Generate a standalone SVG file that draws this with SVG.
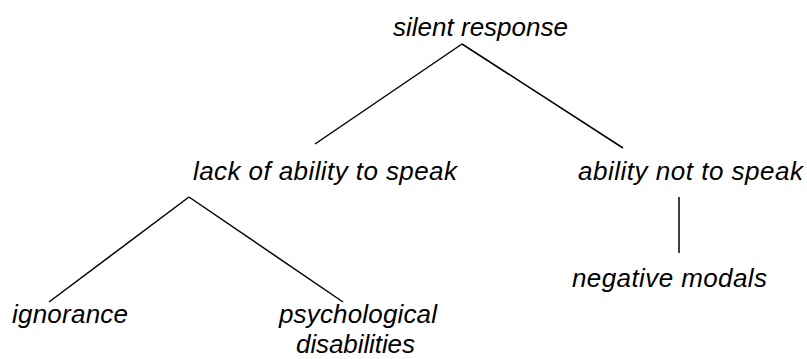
<svg xmlns="http://www.w3.org/2000/svg" width="807" height="359" viewBox="0 0 807 359">
<style>
text{font-family:"Liberation Sans",Arial,sans-serif;font-style:italic;font-size:26px;fill:#000}
.c line{stroke:#000;stroke-width:1.5;fill:none}
</style>
<rect width="807" height="359" fill="#fff"/>
<g class="c" id="connectors">
<line x1="462" y1="44" x2="315" y2="144"/>
<line x1="462" y1="44" x2="623" y2="148"/>
<line x1="189" y1="197" x2="49" y2="302"/>
<line x1="189" y1="197" x2="343" y2="302"/>
<line x1="679" y1="197" x2="679" y2="253"/>
</g>
<g id="n-silent"><text x="393" y="36" textLength="175">silent response</text></g>
<g id="n-lack"><text x="193" y="180" textLength="264">lack of ability to speak</text></g>
<g id="n-ability"><text x="578" y="180" textLength="225">ability not to speak</text></g>
<g id="n-ignorance"><text x="12" y="323" textLength="116">ignorance</text></g>
<g id="n-psych"><text x="279" y="323" textLength="158">psychological</text><text x="296" y="353" textLength="119">disabilities</text></g>
<g id="n-negative"><text x="572" y="287" textLength="195">negative modals</text></g>
</svg>
